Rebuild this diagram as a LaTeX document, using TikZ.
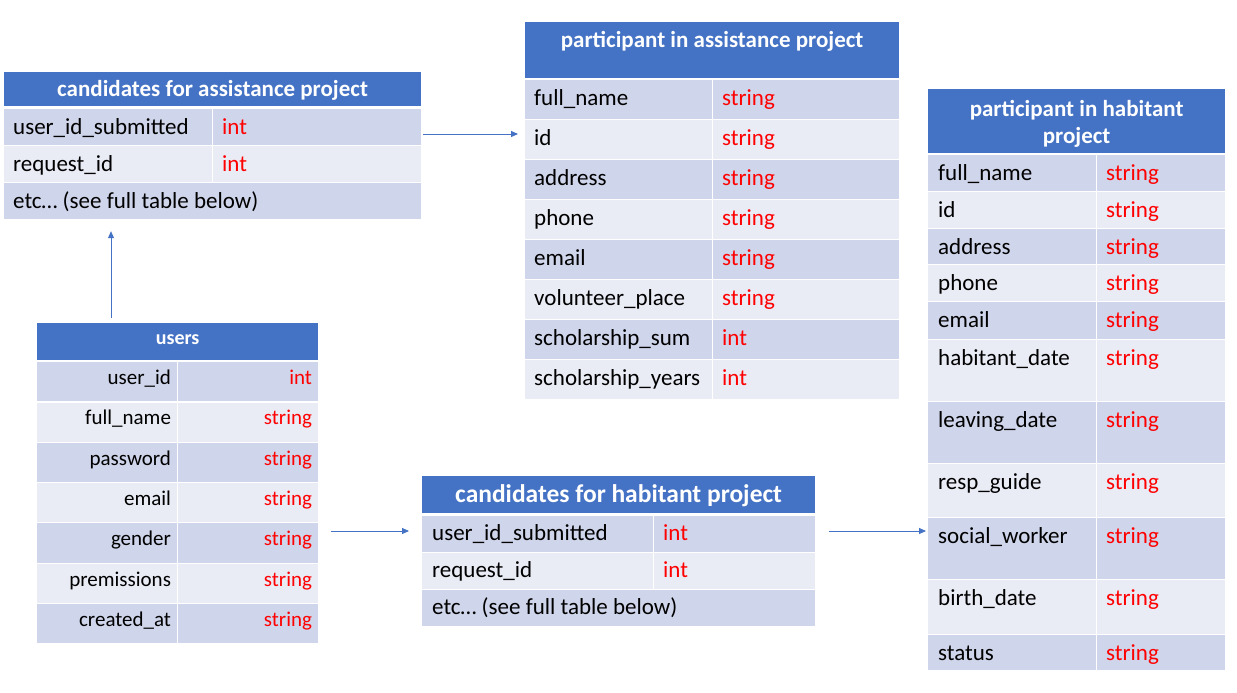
\documentclass[tikz,border=0pt]{standalone}
\usepackage{fontspec}
\setmainfont{Carlito}
\usetikzlibrary{arrows.meta,positioning}
\definecolor{hdrblue} {HTML}{4472C4}
\definecolor{rowdark} {HTML}{CFD5EA}
\definecolor{rowlight}{HTML}{E9EBF5}
\definecolor{typered} {HTML}{FF0000}
\newcommand{\rowsize} {\fontsize{23}{28}\selectfont}
\newcommand{\usersize}{\fontsize{21}{26}\selectfont}
\newcommand{\hdrsize} {\fontsize{23}{27}\selectfont}
\newcommand{\bighdr}  {\fontsize{25.5}{30}\selectfont}
\newcommand{\smallhdr}{\fontsize{20}{24}\selectfont}

\begin{document}
\begin{tikzpicture}[x=1pt, y=-1pt, font=\rowsize,
  cell/.style={draw=white, line width=1.2pt, anchor=north west, inner sep=0pt},
  hdr/.style={cell, fill=hdrblue},
  nm/.style={anchor=base west, inner sep=0pt},
  nmr/.style={anchor=base east, inner sep=0pt},
  ty/.style={anchor=base west, inner sep=0pt, text=typered},
  tyr/.style={anchor=base east, inner sep=0pt, text=typered},
  ttl/.style={anchor=base, inner sep=0pt, text=white, font=\hdrsize\bfseries},
  link/.style={hdrblue, line width=0.9pt, -{Triangle[length=7pt,width=6pt]}}]
  \useasboundingbox[fill=white] (0,0) rectangle (1237,693);

  % candidates for assistance project
  \node[hdr, minimum width=418, minimum height=35] (aHead) at (3,71) {};
  \node[ttl] (aTitle) at ([shift={(0,25)}]aHead.north) {candidates for assistance project};
  \foreach \i/\nm/\fl in {0/user\_id\_submitted/rowdark, 1/request\_id/rowlight} {
    \node[cell, fill=\fl, minimum width=209, minimum height=37] (aKey\i) at (3,108+37*\i) {};
    \node[cell, fill=\fl, minimum width=209, minimum height=37] (aVal\i) at (212,108+37*\i) {};
    \node[nm] (aKeyT\i) at ([shift={(10,26)}]aKey\i.north west) {\nm};
    \node[ty] (aValT\i) at ([shift={(10,26)}]aVal\i.north west) {int};
  }
  \node[cell, fill=rowdark, minimum width=418, minimum height=37] (aMore) at (3,182) {};
  \node[nm] (aMoreT) at ([shift={(10,26)}]aMore.north west) {etc… (see full table below)};

  % participant in assistance project
  \node[hdr, minimum width=375, minimum height=57] (bHead) at (524,21) {};
  \node[ttl] (bTitle) at ([shift={(0,26.7)}]bHead.north) {participant in assistance project};
  \foreach \i/\nm/\ty/\fl in {0/full\_name/string/rowdark, 1/id/string/rowlight,
      2/address/string/rowdark, 3/phone/string/rowlight, 4/email/string/rowdark,
      5/volunteer\_place/string/rowlight, 6/scholarship\_sum/int/rowdark,
      7/scholarship\_years/int/rowlight} {
    \node[cell, fill=\fl, minimum width=188, minimum height=40] (bKey\i) at (524,79+40*\i) {};
    \node[cell, fill=\fl, minimum width=187, minimum height=40] (bVal\i) at (712,79+40*\i) {};
    \node[nm] (bKeyT\i) at ([shift={(10,26.5)}]bKey\i.north west) {\nm};
    \node[ty] (bValT\i) at ([shift={(10,26.5)}]bVal\i.north west) {\ty};
  }

  % users
  \node[hdr, minimum width=282, minimum height=38] (uHead) at (36,322) {};
  \node[ttl, font=\smallhdr\bfseries] (uTitle) at ([shift={(0,22.3)}]uHead.north) {users};
  \foreach \i/\nm/\ty/\fl in {0/user\_id/int/rowdark, 1/full\_name/string/rowlight,
      2/password/string/rowdark, 3/email/string/rowlight, 4/gender/string/rowdark,
      5/premissions/string/rowlight, 6/created\_at/string/rowdark} {
    \node[cell, fill=\fl, minimum width=141, minimum height=40.3] (uKey\i) at (36,361+40.3*\i) {};
    \node[cell, fill=\fl, minimum width=141, minimum height=40.3] (uVal\i) at (177,361+40.3*\i) {};
    \node[nmr, font=\usersize] (uKeyT\i) at ([shift={(-7,23.5)}]uKey\i.north east) {\nm};
    \node[tyr, font=\usersize] (uValT\i) at ([shift={(-7,23.5)}]uVal\i.north east) {\ty};
  }

  % candidates for habitant project
  \node[hdr, minimum width=394, minimum height=38] (dHead) at (421,475) {};
  \node[ttl, font=\bighdr\bfseries] (dTitle) at ([shift={(0,27.3)}]dHead.north) {candidates for habitant project};
  \foreach \i/\nm/\fl in {0/user\_id\_submitted/rowdark, 1/request\_id/rowlight} {
    \node[cell, fill=\fl, minimum width=232, minimum height=37] (dKey\i) at (421,515+37*\i) {};
    \node[cell, fill=\fl, minimum width=162, minimum height=37] (dVal\i) at (653,515+37*\i) {};
    \node[nm] (dKeyT\i) at ([shift={(11,25)}]dKey\i.north west) {\nm};
    \node[ty] (dValT\i) at ([shift={(10,25)}]dVal\i.north west) {int};
  }
  \node[cell, fill=rowdark, minimum width=394, minimum height=37] (dMore) at (421,589) {};
  \node[nm] (dMoreT) at ([shift={(11,25)}]dMore.north west) {etc… (see full table below)};

  % participant in habitant project
  \node[hdr, minimum width=298, minimum height=65] (cHead) at (927,88) {};
  \node[ttl, align=center] (cTitle) at ([shift={(0,55)}]cHead.north) {participant in habitant\\project};
  \foreach \i/\top/\h/\nm/\fl in {0/154/36.5/full\_name/rowdark, 1/190.5/37/id/rowlight,
      2/227.5/36.5/address/rowdark, 3/264/37/phone/rowlight, 4/301/37.5/email/rowdark,
      5/338.5/62/habitant\_date/rowlight, 6/400.5/62/leaving\_date/rowdark,
      7/462.5/54/resp\_guide/rowlight, 8/516.5/62.5/social\_worker/rowdark,
      9/579/54.5/birth\_date/rowlight, 10/633.5/36.5/status/rowdark} {
    \node[cell, fill=\fl, minimum width=169, minimum height=\h] (cKey\i) at (927,\top) {};
    \node[cell, fill=\fl, minimum width=129, minimum height=\h] (cVal\i) at (1096,\top) {};
    \node[nm] (cKeyT\i) at ([shift={(11,26.5)}]cKey\i.north west) {\nm};
    \node[ty] (cValT\i) at ([shift={(10,26.5)}]cVal\i.north west) {string};
  }

  % links
  \coordinate (upX) at (111,0);
  \coordinate (abY) at (0,134);
  \coordinate (udY) at (0,531);
  \draw[link, shorten <=4pt, shorten >=11pt] (uHead.north -| upX) -- (aMore.south -| upX);
  \draw[link, shorten <=1pt, shorten >=6pt] (aVal0.east |- abY) -- (bKey1.west |- abY);
  \draw[link, shorten <=12pt, shorten >=12pt] (uVal4.east |- udY) -- (dKey0.west |- udY);
  \draw[link, shorten <=13pt, shorten >=1pt] (dVal0.east |- udY) -- (cKey8.west |- udY);
\end{tikzpicture}
\end{document}
